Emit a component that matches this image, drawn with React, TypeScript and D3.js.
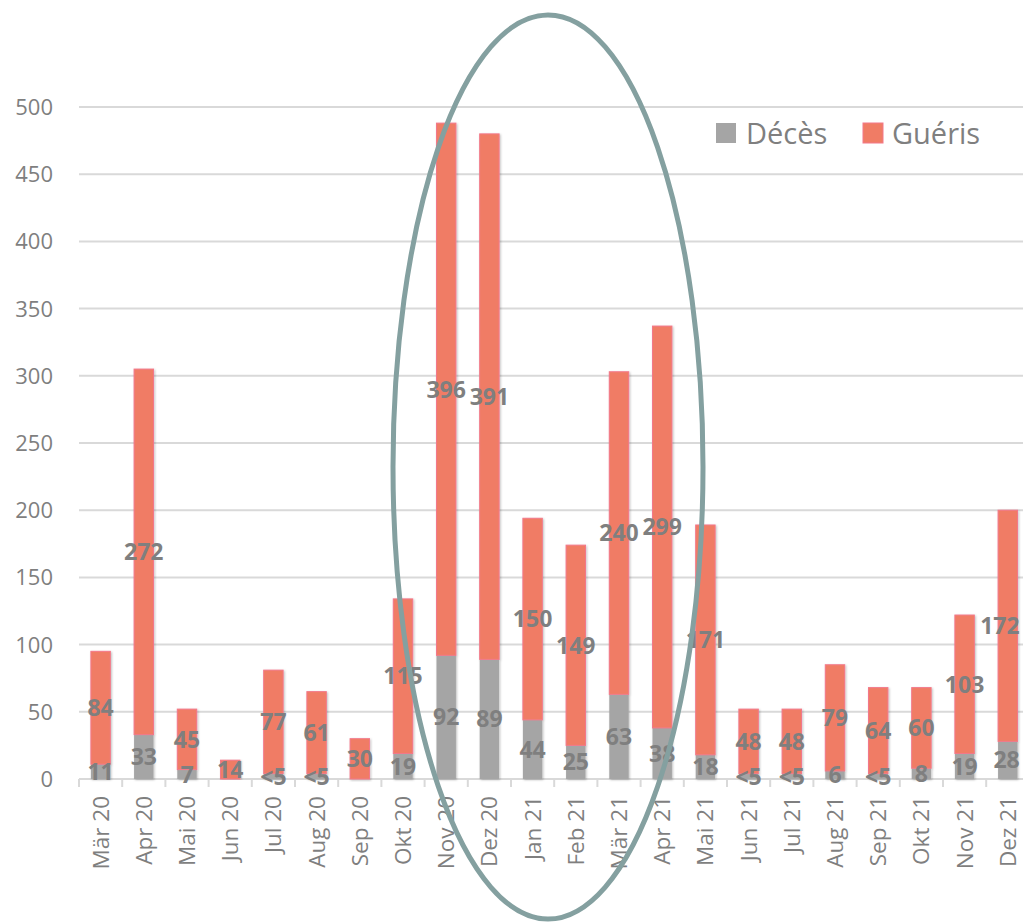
import React from "react";
import * as d3 from "d3";

// Monthly outcomes, March 2020 – December 2021
const months = [
  "Mär 20", "Apr 20", "Mai 20", "Jun 20", "Jul 20", "Aug 20", "Sep 20", "Okt 20",
  "Nov 20", "Dez 20", "Jan 21", "Feb 21", "Mär 21", "Apr 21", "Mai 21", "Jun 21",
  "Jul 21", "Aug 21", "Sep 21", "Okt 21", "Nov 21", "Dez 21",
];
// Deaths; months reported as "<5" are drawn with a value of 4
const deces = [11, 33, 7, 0, 4, 4, 0, 19, 92, 89, 44, 25, 63, 38, 18, 4, 4, 6, 4, 8, 19, 28];
const decesLabels = ["11", "33", "7", "", "<5", "<5", "", "19", "92", "89", "44", "25", "63", "38", "18", "<5", "<5", "6", "<5", "8", "19", "28"];
const gueris = [84, 272, 45, 14, 77, 61, 30, 115, 396, 391, 150, 149, 240, 299, 171, 48, 48, 79, 64, 60, 103, 172];
const yTicks = [0, 50, 100, 150, 200, 250, 300, 350, 400, 450, 500];

const W = 1023;
const H = 923;
const FONT = "'Open Sans', sans-serif";
const GRAY = "#A5A5A5";
const ORANGE = "#F07C65";
const TEXT = "#7F7F7F";
const LABEL_RIGHT = 1020;
const DIGIT_W = 13.4;

// keep value labels inside the chart's right edge
const labelX = (cx: number, s: string) => Math.min(cx, LABEL_RIGHT - (s.length * DIGIT_W) / 2);

export default function App() {
  const x = d3.scaleBand<string>().domain(months).range([79, 79 + 43.2 * months.length]).paddingInner(0.55).paddingOuter(0.275);
  const y = d3.scaleLinear().domain([0, 500]).range([779, 107]);
  const step = x.step();
  const bw = x.bandwidth();

  return (
    <svg width={W} height={H} style={{ position: "absolute", left: 0, top: 0, background: "#fff" }}>
      <defs>
        <filter id="barShadow" x="-30%" y="-5%" width="160%" height="110%">
          <feDropShadow dx="1" dy="1" stdDeviation="1.2" floodColor="#000" floodOpacity="0.25" />
        </filter>
      </defs>

      {/* gridlines and y labels */}
      {yTicks.map((t) => (
        <g key={t}>
          <line x1={79} x2={W} y1={y(t)} y2={y(t)} stroke="#D9D9D9" strokeWidth={2} />
          <text x={53} y={y(t)} dy="0.36em" textAnchor="end" fontFamily={FONT} fontSize={22} fill={TEXT}>
            {t}
          </text>
        </g>
      ))}

      {/* category tick marks */}
      {d3.range(months.length + 1).map((i) => (
        <line key={i} x1={79 + i * step} x2={79 + i * step} y1={779} y2={787} stroke="#D9D9D9" strokeWidth={2} />
      ))}

      {/* stacked bars */}
      {months.map((m, i) => {
        const x0 = x(m)!;
        const d = deces[i];
        const g = gueris[i];
        return (
          <g key={m} filter="url(#barShadow)">
            {d > 0 && <rect x={x0} width={bw} y={y(d)} height={y(0) - y(d)} fill={GRAY} />}
            <rect x={x0} width={bw} y={y(d + g)} height={y(d) - y(d + g)} fill={ORANGE} stroke="#F3788A" strokeWidth={1} />
          </g>
        );
      })}

      {/* value labels */}
      {months.map((m, i) => {
        const cx = x(m)! + bw / 2;
        const d = deces[i];
        const g = gueris[i];
        return (
          <g key={m} fontFamily={FONT} fontSize={23} fontWeight={700} fill={TEXT} textAnchor="middle">
            {decesLabels[i] && (
              <text x={labelX(cx, decesLabels[i])} y={(y(0) + y(d)) / 2} dy="0.36em">{decesLabels[i]}</text>
            )}
            <text x={labelX(cx, String(g))} y={(y(d) + y(d + g)) / 2} dy="0.36em">{g}</text>
          </g>
        );
      })}

      {/* month labels */}
      {months.map((m) => {
        const cx = x(m)! + bw / 2;
        return (
          <text key={m} transform={`translate(${cx + 8},796) rotate(-90)`} textAnchor="end" fontFamily={FONT} fontSize={22.5} fill={TEXT}>
            {m}
          </text>
        );
      })}

      {/* legend */}
      <rect x={716} y={123} width={20} height={20} fill={GRAY} />
      <text x={746} y={144} fontFamily={FONT} fontSize={29} fill={TEXT}>Décès</text>
      <rect x={863} y={123} width={20} height={20} fill={ORANGE} stroke="#F3788A" strokeWidth={1} />
      <text x={892} y={144} fontFamily={FONT} fontSize={29} fill={TEXT}>Guéris</text>

      {/* highlight around the winter 2020/21 period */}
      <ellipse cx={548} cy={467} rx={155} ry={452} fill="none" stroke="#84A0A0" strokeWidth={5} />
    </svg>
  );
}
